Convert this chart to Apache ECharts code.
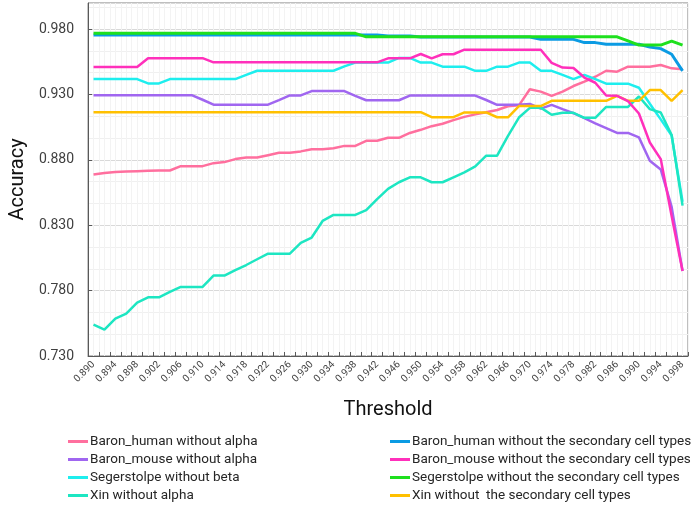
<!DOCTYPE html>
<html>
<head>
<meta charset="utf-8">
<script src="https://cdn.jsdelivr.net/npm/echarts@6/dist/echarts.min.js"></script>
<style>
html,body{margin:0;padding:0;background:#fff;}
#chart{width:699px;height:505px;}
</style>
</head>
<body>
<div id="chart"></div>
<script>
var thresholds = ['0.890','0.892','0.894','0.896','0.898','0.900','0.902','0.904','0.906','0.908',
  '0.910','0.912','0.914','0.916','0.918','0.920','0.922','0.924','0.926','0.928',
  '0.930','0.932','0.934','0.936','0.938','0.940','0.942','0.944','0.946','0.948',
  '0.950','0.952','0.954','0.956','0.958','0.960','0.962','0.964','0.966','0.968',
  '0.970','0.972','0.974','0.976','0.978','0.980','0.982','0.984','0.986','0.988',
  '0.990','0.992','0.994','0.996','0.998'];

var yTicks = {min: 0.73, max: 1.0, step: 0.05};

var baronHumanNoAlpha = [0.8688,0.8700,0.8708,0.8711,0.8714,0.8716,0.8718,0.8719,0.8752,0.8752,
  0.8752,0.8775,0.8783,0.8806,0.8818,0.8818,0.8836,0.8854,0.8854,0.8865,
  0.8882,0.8882,0.8889,0.8907,0.8907,0.8946,0.8946,0.8969,0.8969,0.9006,
  0.9030,0.9058,0.9076,0.9104,0.9129,0.9148,0.9164,0.9182,0.9210,0.9217,
  0.9340,0.9322,0.9289,0.9322,0.9365,0.9398,0.9436,0.9482,0.9475,0.9513,
  0.9513,0.9513,0.9526,0.9500,0.9493];

var baronMouseNoAlpha = [0.9295,0.9295,0.9295,0.9295,0.9295,0.9295,0.9295,0.9295,0.9295,0.9295,
  0.9260,0.9222,0.9222,0.9222,0.9222,0.9222,0.9222,0.9257,0.9293,0.9293,
  0.9326,0.9326,0.9326,0.9326,0.9290,0.9256,0.9256,0.9256,0.9256,0.9292,
  0.9292,0.9292,0.9292,0.9292,0.9292,0.9292,0.9258,0.9221,0.9221,0.9221,
  0.9228,0.9192,0.9221,0.9188,0.9157,0.9119,0.9080,0.9043,0.9006,0.9006,
  0.8972,0.8794,0.8727,0.8440,0.7950];

var segerNoBeta = [0.9418,0.9418,0.9418,0.9418,0.9418,0.9385,0.9385,0.9418,0.9418,0.9418,
  0.9418,0.9418,0.9418,0.9418,0.9450,0.9482,0.9482,0.9482,0.9482,0.9482,
  0.9482,0.9482,0.9482,0.9515,0.9544,0.9544,0.9544,0.9544,0.9580,0.9580,
  0.9544,0.9544,0.9513,0.9513,0.9513,0.9481,0.9481,0.9513,0.9513,0.9544,
  0.9544,0.9481,0.9481,0.9450,0.9418,0.9450,0.9418,0.9383,0.9383,0.9383,
  0.9352,0.9230,0.9110,0.8986,0.8480];

var xinNoAlpha = [0.7540,0.7502,0.7586,0.7624,0.7708,0.7749,0.7749,0.7790,0.7828,0.7828,
  0.7828,0.7915,0.7915,0.7956,0.7996,0.8040,0.8083,0.8083,0.8083,0.8165,
  0.8206,0.8333,0.8379,0.8379,0.8379,0.8415,0.8500,0.8578,0.8629,0.8667,
  0.8667,0.8629,0.8629,0.8667,0.8705,0.8751,0.8832,0.8832,0.8984,0.9124,
  0.9198,0.9200,0.9145,0.9160,0.9160,0.9122,0.9122,0.9205,0.9205,0.9205,
  0.9285,0.9188,0.9162,0.8990,0.8450];

var baronHumanNoSecondary = [0.9755,0.9755,0.9755,0.9755,0.9755,0.9755,0.9755,0.9755,0.9755,0.9755,
  0.9755,0.9755,0.9755,0.9755,0.9755,0.9755,0.9755,0.9755,0.9755,0.9755,
  0.9755,0.9755,0.9755,0.9755,0.9755,0.9755,0.9755,0.9748,0.9748,0.9748,
  0.9740,0.9740,0.9740,0.9740,0.9740,0.9740,0.9740,0.9740,0.9740,0.9740,
  0.9740,0.9722,0.9722,0.9722,0.9722,0.9697,0.9697,0.9684,0.9684,0.9684,
  0.9684,0.9664,0.9651,0.9608,0.9481];

var baronMouseNoSecondary = [0.9510,0.9510,0.9510,0.9510,0.9510,0.9578,0.9578,0.9578,0.9578,0.9578,
  0.9578,0.9546,0.9546,0.9546,0.9546,0.9546,0.9546,0.9546,0.9546,0.9546,
  0.9546,0.9546,0.9546,0.9546,0.9546,0.9546,0.9546,0.9577,0.9577,0.9577,
  0.9610,0.9576,0.9608,0.9608,0.9643,0.9643,0.9643,0.9643,0.9643,0.9643,
  0.9643,0.9643,0.9542,0.9506,0.9503,0.9430,0.9390,0.9292,0.9290,0.9250,
  0.9155,0.8933,0.8806,0.8370,0.7950];

var segerNoSecondary = [0.9768,0.9768,0.9768,0.9768,0.9768,0.9768,0.9768,0.9768,0.9768,0.9768,
  0.9768,0.9768,0.9768,0.9768,0.9768,0.9768,0.9768,0.9768,0.9768,0.9768,
  0.9768,0.9768,0.9768,0.9768,0.9768,0.9741,0.9741,0.9741,0.9741,0.9741,
  0.9741,0.9741,0.9741,0.9741,0.9741,0.9741,0.9741,0.9741,0.9741,0.9741,
  0.9741,0.9741,0.9741,0.9741,0.9741,0.9741,0.9741,0.9741,0.9741,0.9710,
  0.9678,0.9678,0.9678,0.9708,0.9678];

var xinNoSecondary = [0.9165,0.9165,0.9165,0.9165,0.9165,0.9165,0.9165,0.9165,0.9165,0.9165,
  0.9165,0.9165,0.9165,0.9165,0.9165,0.9165,0.9165,0.9165,0.9165,0.9165,
  0.9165,0.9165,0.9165,0.9165,0.9165,0.9165,0.9165,0.9165,0.9165,0.9165,
  0.9165,0.9127,0.9127,0.9127,0.9163,0.9163,0.9163,0.9126,0.9126,0.9212,
  0.9212,0.9212,0.9252,0.9252,0.9252,0.9252,0.9252,0.9252,0.9289,0.9252,
  0.9252,0.9334,0.9334,0.9252,0.9334];

var seriesNames = [
  'Baron_human without alpha',
  'Baron_mouse without alpha',
  'Segerstolpe without beta',
  'Xin without alpha',
  'Baron_human without the secondary cell types',
  'Baron_mouse without the secondary cell types',
  'Segerstolpe without the secondary cell types',
  'Xin without  the secondary cell types'
];
var seriesColors = ['#ff6f9e','#a066f0','#1eeeee','#1de6c2','#0b9be3','#ff30bb','#1ee01e','#ffc000'];
var seriesData = [baronHumanNoAlpha, baronMouseNoAlpha, segerNoBeta, xinNoAlpha,
  baronHumanNoSecondary, baronMouseNoSecondary, segerNoSecondary, xinNoSecondary];
var seriesWidths = [2.5,2.5,2.5,2.5,3,2.5,3,2.5];

var FONT = 'Roboto';
var chart = echarts.init(document.getElementById('chart'), null, {renderer:'canvas'});

var series = seriesData.map(function(d, k){
  return {
    name: seriesNames[k], type: 'line', data: d, xAxisIndex: 0, yAxisIndex: 0,
    symbol: 'none', smooth: false, animation: false,
    lineStyle: {color: seriesColors[k], width: seriesWidths[k]},
    itemStyle: {color: seriesColors[k]},
    z: [2,2,2,2,3,2,4,2][k]
  };
});
var order = [0,1,2,3,4,7,5,6];
series = order.map(function(i){ return series[i]; });

function legendCfg(names, left){
  return {
    data: names, orient: 'vertical', left: left, top: 433, height: 80,
    itemWidth: 20, itemHeight: 3, itemGap: 1, icon: 'rect', padding: [0,5,0,5],
    textStyle: {fontFamily: FONT, fontSize: 13.5, lineHeight: 17, color: '#262626', padding:[0,0,0,-3]},
    selectedMode: false
  };
}

chart.setOption({
  backgroundColor: '#ffffff',
  animation: false,
  textStyle: {fontFamily: FONT},
  grid: {left: 84, right: 11, top: 3, bottom: 149, show: true, borderColor: '#7f7f7f', borderWidth: 1, containLabel: false},
  legend: [legendCfg(seriesNames.slice(0,4), 63), legendCfg(seriesNames.slice(4), 385)],
  xAxis: [{
    type: 'category', data: thresholds, boundaryGap: true,
    name: 'Threshold', nameLocation: 'middle', nameGap: 44,
    nameTextStyle: {fontFamily: FONT, fontSize: 20, color: '#111'},
    axisLine: {show: true, lineStyle: {color: '#595959', width: 1}},
    axisTick: {show: true, inside: true, interval: 0, length: 4, lineStyle: {color: '#595959'}},
    axisLabel: {interval: 1, rotate: 45, fontSize: 10, color: '#404040', margin: 7, fontFamily: FONT},
    splitLine: {show: true, interval: 0, lineStyle: {color: '#ebebeb', width: 1}}
  },{
    type: 'value', min: 0, max: 110, interval: 1, position: 'top',
    axisLine: {show: false}, axisTick: {show: false}, axisLabel: {show: false},
    splitLine: {show: true, lineStyle: {color: '#f3f3f3', width: 1}}
  }],
  yAxis: {
    type: 'value', min: yTicks.min, max: yTicks.max, interval: yTicks.step,
    name: 'Accuracy', nameLocation: 'middle', nameGap: 56,
    nameTextStyle: {fontFamily: FONT, fontSize: 20, color: '#111'},
    axisLine: {show: true, lineStyle: {color: '#595959', width: 1}},
    axisTick: {show: true, inside: true, length: 4, lineStyle: {color: '#595959'}},
    axisLabel: {fontSize: 14, color: '#404040', margin: 14, fontFamily: FONT, showMaxLabel: false,
      formatter: function(v){ return v.toFixed(3); }},
    splitLine: {show: true, lineStyle: {color: '#d9d9d9', width: 1}},
    minorTick: {show: false, splitNumber: 3},
    minorSplitLine: {show: true, lineStyle: {color: '#f0f0f0', width: 1}}
  },
  series: series
});
</script>
</body>
</html>
